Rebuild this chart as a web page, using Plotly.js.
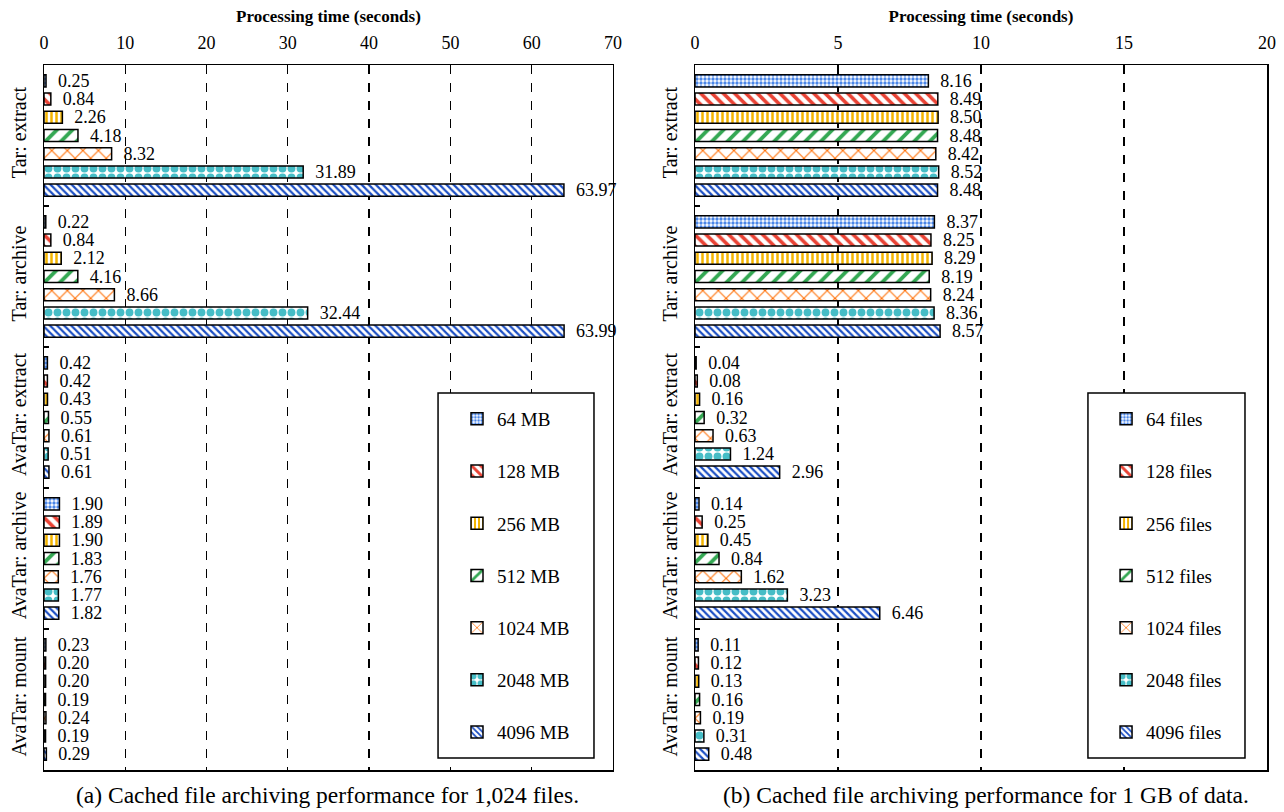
<!DOCTYPE html>
<html>
<head>
<meta charset="utf-8">
<script src="https://cdn.plot.ly/plotly-3.0.1.min.js"></script>
<style>html,body{margin:0;padding:0;background:#fff;}#chart{width:1284px;height:812px;}</style>
</head>
<body>
<div id="chart"></div>
<script>
// ---- data ----
const categories = ["Tar: extract", "Tar: archive", "AvaTar: extract", "AvaTar: archive", "AvaTar: mount"];

const sizeLabels = ["64 MB", "128 MB", "256 MB", "512 MB", "1024 MB", "2048 MB", "4096 MB"];
const fileLabels = ["64 files", "128 files", "256 files", "512 files", "1024 files", "2048 files", "4096 files"];

// (a) 1,024 files, varying total size
const a64MB   = [0.25, 0.22, 0.42, 1.90, 0.23];
const a128MB  = [0.84, 0.84, 0.42, 1.89, 0.20];
const a256MB  = [2.26, 2.12, 0.43, 1.90, 0.20];
const a512MB  = [4.18, 4.16, 0.55, 1.83, 0.19];
const a1024MB = [8.32, 8.66, 0.61, 1.76, 0.24];
const a2048MB = [31.89, 32.44, 0.51, 1.77, 0.19];
const a4096MB = [63.97, 63.99, 0.61, 1.82, 0.29];

// (b) 1 GB of data, varying number of files
const b64f   = [8.16, 8.37, 0.04, 0.14, 0.11];
const b128f  = [8.49, 8.25, 0.08, 0.25, 0.12];
const b256f  = [8.50, 8.29, 0.16, 0.45, 0.13];
const b512f  = [8.48, 8.19, 0.32, 0.84, 0.16];
const b1024f = [8.42, 8.24, 0.63, 1.62, 0.19];
const b2048f = [8.52, 8.36, 1.24, 3.23, 0.31];
const b4096f = [8.48, 8.57, 2.96, 6.46, 0.48];

const xTitle = "Processing time (seconds)";
const captionA = "(a) Cached file archiving performance for 1,024 files.";
const captionB = "(b) Cached file archiving performance for 1 GB of data.";

// ---- styles ----
const SERIF = "Liberation Serif";
const styles = [
  {color: "#4a86e8", shape: ".",  size: 4,  solidity: 0.55},
  {color: "#ea4335", shape: "\\", size: 8,  solidity: 0.45},
  {color: "#f4b400", shape: "|",  size: 5,  solidity: 0.5},
  {color: "#34a853", shape: "/",  size: 11, solidity: 0.35},
  {color: "#ff6d01", shape: "x",  size: 11, solidity: 0.18},
  {color: "#46bdc6", shape: ".",  size: 9,  solidity: 0.6},
  {color: "#1c4fc4", shape: "\\", size: 5,  solidity: 0.45}
];

function makeTraces(seriesList, names, xa, ya, legendName) {
  return seriesList.map((vals, i) => ({
    type: "bar",
    orientation: "h",
    x: vals,
    y: categories,
    name: names[i],
    xaxis: xa,
    yaxis: ya,
    legend: legendName,
    legendgroup: legendName + i,
    marker: {
      color: "#ffffff",
      line: {color: "#000000", width: 1.5},
      pattern: {
        shape: styles[i].shape,
        fgcolor: styles[i].color,
        bgcolor: "#ffffff",
        size: styles[i].size,
        solidity: styles[i].solidity,
        fillmode: "replace"
      }
    },
    texttemplate: "\u2002%{x:.2f}",
    textposition: "outside",
    textfont: {family: SERIF, size: 18, color: "#000"},
    constraintext: "none",
    cliponaxis: false,
    hoverinfo: "x+name"
  }));
}

const tracesA = makeTraces([a64MB, a128MB, a256MB, a512MB, a1024MB, a2048MB, a4096MB], sizeLabels, "x", "y", "legend");
const tracesB = makeTraces([b64f, b128f, b256f, b512f, b1024f, b2048f, b4096f], fileLabels, "x2", "y2", "legend2");

const xaxisCommon = {
  side: "top",
  showgrid: true,
  gridcolor: "#000",
  griddash: "dash",
  gridwidth: 1.3,
  zeroline: false,
  showline: true,
  linecolor: "#000",
  linewidth: 1.5,
  mirror: true,
  ticks: "",
  ticklabelstandoff: 7,
  tickfont: {family: SERIF, size: 18, color: "#000"},
  title: {text: xTitle, font: {family: SERIF, size: 17, color: "#000", weight: "bold"}, standoff: 6}
};
const yaxisCommon = {
  type: "category",
  autorange: "reversed",
  tickson: "boundaries",
  ticks: "inside",
  ticklen: 5,
  tickcolor: "#000",
  tickwidth: 1.5,
  showgrid: false,
  showline: true,
  linecolor: "#000",
  linewidth: 1.5,
  mirror: true,
  tickangle: -90,
  ticklabelstandoff: 9,
  tickfont: {family: SERIF, size: 20, color: "#000"}
};

const legendCommon = {
  bgcolor: "rgba(0,0,0,0)",
  borderwidth: 0,
  font: {family: SERIF, size: 19, color: "#000"},
  tracegroupgap: 24.5,
  traceorder: "grouped",
  xanchor: "left",
  yanchor: "top",
  itemwidth: 30
};

const layout = {
  width: 1284,
  height: 812,
  margin: {l: 44, r: 17, t: 65, b: 42},
  paper_bgcolor: "#fff",
  plot_bgcolor: "#fff",
  font: {family: SERIF, color: "#000"},
  barmode: "group",
  bargap: 0.096,
  bargroupgap: 0.34,
  showlegend: true,
  xaxis: Object.assign({}, xaxisCommon, {domain: [0, 0.4652], range: [0, 70], dtick: 10, anchor: "y"}),
  yaxis: Object.assign({}, yaxisCommon, {anchor: "x"}),
  xaxis2: Object.assign({}, xaxisCommon, {domain: [0.5323, 1], range: [0, 20], dtick: 5, anchor: "y2"}),
  yaxis2: Object.assign({}, yaxisCommon, {anchor: "x2"}),
  legend: Object.assign({}, legendCommon, {x: 0.3377, y: 0.5248}),
  legend2: Object.assign({}, legendCommon, {x: 0.8684, y: 0.5248}),
  shapes: [
    {type: "rect", xref: "paper", yref: "paper", x0: 0.3222, x1: 0.4497, y0: 0.017, y1: 0.5348,
     line: {color: "#000", width: 1.5}, fillcolor: "#fff", layer: "above"},
    {type: "rect", xref: "paper", yref: "paper", x0: 0.8536, x1: 0.982, y0: 0.017, y1: 0.5348,
     line: {color: "#000", width: 1.5}, fillcolor: "#fff", layer: "above"}
  ],
  annotations: [
    {text: captionA, xref: "paper", yref: "paper", x: 0.2317, y: -0.0355, xanchor: "center", yanchor: "middle",
     showarrow: false, font: {family: SERIF, size: 23.5, color: "#000"}},
    {text: captionB, xref: "paper", yref: "paper", x: 0.7703, y: -0.0355, xanchor: "center", yanchor: "middle",
     showarrow: false, font: {family: SERIF, size: 23.5, color: "#000"}}
  ]
};

Plotly.newPlot("chart", tracesA.concat(tracesB), layout, {displayModeBar: false, staticPlot: true});
</script>
</body>
</html>
